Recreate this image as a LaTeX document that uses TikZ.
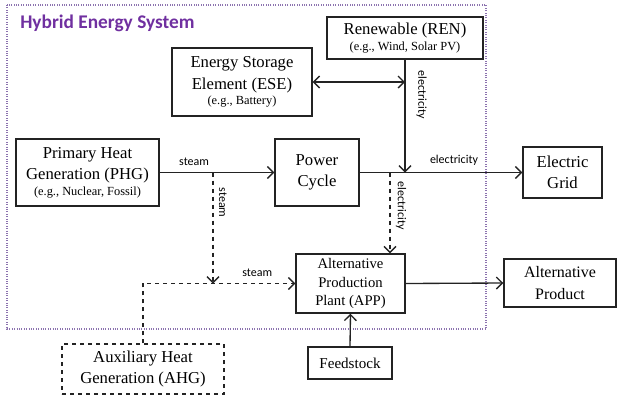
\documentclass[tikz,border=0pt]{standalone}
\usepackage{fontspec}
\setmainfont{Liberation Serif}
\newfontfamily\flowfont{Carlito}
\usetikzlibrary{arrows.meta}

\definecolor{hespurple}{RGB}{112,48,160}
\definecolor{framepurple}{RGB}{140,115,175}
\definecolor{boxline}{RGB}{35,35,35}

% small example line under a box title
\newcommand{\exline}[1]{\\[-4.5pt]{\fontsize{9.3}{11}\selectfont #1}}

\begin{document}
\begin{tikzpicture}[x=0.75pt,y=-0.75pt,
    block/.style={draw=boxline,line width=1.1pt,inner sep=0pt,align=center,
        font=\fontsize{12.5}{16}\selectfont},
    flow/.style={draw=boxline,line width=1pt,-{Straight Barb[length=4.5pt,width=9pt]}},
    dualflow/.style={flow,{Straight Barb[length=4.5pt,width=9pt]}-{Straight Barb[length=4.5pt,width=9pt]}},
    flowlabel/.style={font=\flowfont\fontsize{9}{10}\selectfont,inner sep=0pt}]

    		\useasboundingbox (0,0) rectangle (619,401);

    		% Draw the system frame
    		\draw[framepurple,densely dotted,line width=0.8pt] (7,5) rectangle (486,329);
    		\node[anchor=base west,inner sep=0pt,text=hespurple,
    		    font=\flowfont\bfseries\fontsize{14.5}{17}\selectfont] (title) at (20,28) {Hybrid Energy System};

    		% Draw the boxes
    		\node[block,minimum width=105pt,minimum height=51pt] (ese) at (242,82)
    		    {Energy Storage\\Element (ESE)\exline{(e.g., Battery)}};
    		\node[block,minimum width=117pt,minimum height=31.5pt] (ren) at (405,38)
    		    {Renewable (REN)\exline{(e.g., Wind, Solar PV)}};
    		\node[block,minimum width=107.25pt,minimum height=50.25pt] (phg) at (87.5,172.5)
    		    {Primary Heat\\Generation (PHG)\exline{(e.g., Nuclear, Fossil)}};
    		\node[block,minimum width=63pt,minimum height=50.25pt] (pc) at (317,172.5)
    		    {Power\\Cycle};
    		\node[block,minimum width=59.25pt,minimum height=38.25pt] (grid) at (562.5,172.5)
    		    {Electric\\Grid};
    		\node[block,minimum width=81.75pt,minimum height=44.25pt,
    		    font=\fontsize{11}{14}\selectfont] (app) at (350.5,283.5)
    		    {Alternative\\Production\\Plant (APP)};
    		\node[block,minimum width=84pt,minimum height=36pt,
    		    font=\fontsize{12}{16}\selectfont] (alt) at (560,283)
    		    {Alternative\\Product};
    		\node[block,minimum width=63pt,minimum height=24pt,
    		    font=\fontsize{11.3}{14}\selectfont] (feed) at (350,363) {Feedstock};
    		\node[block,dashed,minimum width=121.5pt,minimum height=37.5pt] (ahg) at (143,369)
    		    {Auxiliary Heat\\Generation (AHG)};

    		% Branch points on the main lines
    		\coordinate (ssplit) at (213,172.5);
    		\coordinate (smerge) at (213,283.5);
    		\coordinate (esplit) at (390,172.5);
    		\coordinate (ejoin) at (ren.south |- pc.east);

    		% Draw the solid flows
    		\draw[flow] (phg.east) -- (pc.west)
    		    node[flowlabel,pos=0.3,above=5pt] (steamlbl) {steam};
    		\draw[flow] (pc.east) -- (grid.west)
    		    node[flowlabel,pos=0.58,above=5pt] (eleclbl) {electricity};
    		\draw[flow] (ren.south) -- (ejoin)
    		    node[flowlabel,pos=0.31,right=8pt,rotate=-90,anchor=south] (renlbl) {electricity};
    		\draw[dualflow] (ese.east) -- (ese.east -| ren.south);
    		\draw[flow] (app.east) -- (alt.west);
    		\draw[flow] (feed.north) -- (app.south);

    		% Draw the dashed flows
    		\draw[flow,dashed] (ssplit) -- (smerge)
    		    node[flowlabel,pos=0.27,rotate=-90,anchor=south,yshift=4pt] (steamdn) {steam};
    		\draw[flow,dashed] (ahg.north) -- (ahg.north |- app.west) -- (app.west)
    		    node[flowlabel,pos=0.75,above=5pt] (steamin) {steam};
    		\draw[flow,dashed] (esplit) -- (esplit |- app.north)
    		    node[flowlabel,pos=0.41,rotate=-90,anchor=south,yshift=4pt] (elecdn) {electricity};
    	\end{tikzpicture}
\end{document}
